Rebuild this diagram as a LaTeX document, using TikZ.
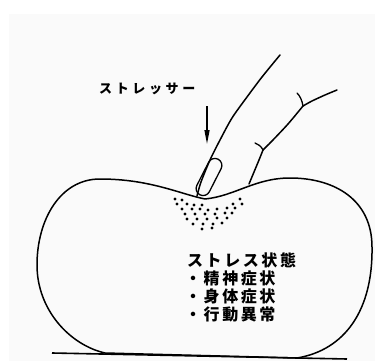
\documentclass[tikz,border=0pt]{standalone}
\usepackage{fontspec}
\usetikzlibrary{arrows.meta}
\newfontfamily\jpwide{Noto Sans CJK JP}[LetterSpace=28]
\newfontfamily\jpbody{Noto Sans CJK JP}[LetterSpace=16]

\begin{document}
\begin{tikzpicture}[
  x=1pt, y=-1pt,
  outline/.style={line width=1.5pt, line join=round, line cap=round},
  crease/.style={line width=1.3pt, line cap=round},
  speck/.style={fill=black},
  label/.style={inner sep=0pt, anchor=base west, font=\jpwide\bfseries\fontsize{13}{15}\selectfont},
  symptom/.style={inner sep=0pt, anchor=base west, font=\jpbody\bfseries\fontsize{16}{18}\selectfont}
]
  \useasboundingbox (0,0) rectangle (375,361);
  \fill[black!2] (9,14) rectangle (375,361);

  % floor
  \coordinate (floorL) at (52,353);
  \coordinate (floorR) at (347,359);
  \draw[line width=1.6pt] (floorL) -- (floorR);

  % the squeezed ball
  \draw[outline] (205,199)
    .. controls (180,194) and (150,179) .. (100,179)
    .. controls (60,179) and (37,220) .. (37,265)
    .. controls (37,310) and (70,345) .. (105,353)
    -- (297,358)
    .. controls (345,350) and (373,310) .. (372,247)
    .. controls (372,200) and (335,178) .. (290,178)
    .. controls (255,178) and (235,196) .. (205,199) -- cycle;

  % finger
  \draw[outline] plot[smooth] coordinates {(280,55) (262,77) (247,97) (232,118) (220,140) (210,160) (201,182) (197,196)};
  \draw[outline] plot[smooth] coordinates {(249,184) (254,172) (259,160) (263,150)};
  \draw[crease] (263,150) .. controls (261,146) and (258,144) .. (255,143);
  \draw[outline] plot[smooth] coordinates {(263,150) (272,141) (288,124) (303,106)};
  \draw[crease] (303,106) .. controls (302,100) and (300,96) .. (297,93);
  \draw[outline] plot[smooth] coordinates {(303,106) (312,101) (325,95) (337,90)};
  % nail
  \draw[line width=1.3pt, rounded corners=7pt, rotate around={63:(209,177)}] (189,170) rectangle (229,184);

  % pressure specks under the finger
  \foreach \x/\y in {175/199, 182/200, 240/199,
                     177/204, 187/204, 194/205, 202/205, 233/204, 242/204,
                     182/209, 192/209, 200/209, 208/210, 217/209, 227/208, 235/208,
                     185/214, 195/214, 205/214, 215/214, 225/213, 232/213,
                     187/219, 197/219, 207/219, 217/218, 227/218,
                     193/224, 203/224, 213/224, 222/223,
                     202/229, 212/228}
    \fill[speck] (\x,\y) circle (1.7pt);

  % stressor label and arrow
  \node[label] (stressor) at (99,93) {ストレッサー};
  \coordinate (arrowtop) at (207,106);
  \coordinate (arrowtip) at (207,144);
  \draw[line width=1.3pt, -{Triangle[length=14pt,width=5pt]}] (arrowtop) -- (arrowtip);

  % stress state and its symptoms
  \node[symptom] (state)     at (187,266) {ストレス状態};
  \node[symptom] (mental)    at (185,284) {・精神症状};
  \node[symptom] (physical)  at (185,302) {・身体症状};
  \node[symptom] (behaviour) at (185,320) {・行動異常};
\end{tikzpicture}
\end{document}
